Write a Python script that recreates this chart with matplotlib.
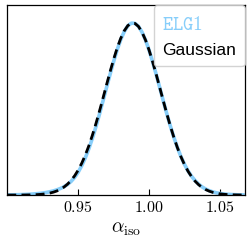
import matplotlib
matplotlib.use("Agg")
import matplotlib.pyplot as plt

# ---- data ----
alpha_iso = [0.9000, 0.9025, 0.9050, 0.9075, 0.9100, 0.9125, 0.9150, 0.9175,
             0.9200, 0.9225, 0.9250, 0.9275, 0.9300, 0.9325, 0.9350, 0.9375,
             0.9400, 0.9425, 0.9450, 0.9475, 0.9500, 0.9525, 0.9550, 0.9575,
             0.9600, 0.9625, 0.9650, 0.9675, 0.9700, 0.9725, 0.9750, 0.9775,
             0.9800, 0.9825, 0.9850, 0.9875, 0.9900, 0.9925, 0.9950, 0.9975,
             1.0000, 1.0025, 1.0050, 1.0075, 1.0100, 1.0125, 1.0150, 1.0175,
             1.0200, 1.0225, 1.0250, 1.0275, 1.0300, 1.0325, 1.0350, 1.0375,
             1.0400, 1.0425, 1.0450, 1.0475, 1.0500, 1.0525, 1.0550, 1.0575,
             1.0600, 1.0625, 1.0650, 1.0675]

elg1 = [0.0010, 0.0013, 0.0017, 0.0022, 0.0028, 0.0036, 0.0046, 0.0058,
        0.0074, 0.0094, 0.0120, 0.0152, 0.0192, 0.0242, 0.0306, 0.0385,
        0.0486, 0.0620, 0.0795, 0.1030, 0.1330, 0.1710, 0.2160, 0.2690,
        0.3300, 0.3970, 0.4700, 0.5470, 0.6250, 0.7020, 0.7760, 0.8440,
        0.9030, 0.9500, 0.9830, 0.9985, 0.9975, 0.9800, 0.9470, 0.9000,
        0.8415, 0.7740, 0.7010, 0.6245, 0.5475, 0.4720, 0.4010, 0.3350,
        0.2755, 0.2230, 0.1780, 0.1400, 0.1090, 0.0835, 0.0630, 0.0470,
        0.0348, 0.0254, 0.0184, 0.0132, 0.0094, 0.0066, 0.0047, 0.0033,
        0.0023, 0.0016, 0.0011, 0.0008]

gaussian = [0.0000, 0.0001, 0.0001, 0.0002, 0.0003, 0.0005, 0.0009, 0.0014,
            0.0022, 0.0034, 0.0053, 0.0079, 0.0117, 0.0169, 0.0241, 0.0339,
            0.0468, 0.0637, 0.0852, 0.1121, 0.1453, 0.1851, 0.2321, 0.2862,
            0.3475, 0.4148, 0.4873, 0.5633, 0.6405, 0.7167, 0.7888, 0.8543,
            0.9103, 0.9542, 0.9842, 0.9987, 0.9971, 0.9794, 0.9465, 0.9000,
            0.8419, 0.7748, 0.7017, 0.6251, 0.5480, 0.4725, 0.4010, 0.3347,
            0.2749, 0.2221, 0.1766, 0.1381, 0.1064, 0.0805, 0.0600, 0.0439,
            0.0317, 0.0225, 0.0157, 0.0108, 0.0073, 0.0048, 0.0032, 0.0020,
            0.0013, 0.0008, 0.0005, 0.0003]

xticks = [0.95, 1.00, 1.05]
xtick_labels = ["0.95", "1.00", "1.05"]
series_labels = ["ELG1", "Gaussian"]

# ---- style ----
plt.rcParams["mathtext.fontset"] = "cm"

fig = plt.figure(figsize=(2.53, 2.53), dpi=100)
ax = fig.add_axes([0.029, 0.225, 0.939, 0.751])

blue = "#87CEFA"
l1, = ax.plot(alpha_iso, elg1, color=blue, lw=2.6, solid_capstyle="butt")
l2, = ax.plot(alpha_iso, gaussian, color="black", lw=2.0,
              linestyle=(0, (3.2, 1.9)))

ax.set_xlim(0.900, 1.0676)
ax.set_ylim(0, max(max(elg1), max(gaussian)) * 1.105)
ax.set_yticks([])
ax.set_xticks(xticks, labels=[f"${t}$" for t in xtick_labels])
ax.tick_params(axis="x", direction="in", length=4, width=0.8,
               labelsize=11.5, pad=3)
for s in ax.spines.values():
    s.set_linewidth(0.9)

ax.set_xlabel(r"$\alpha_{\rm iso}$", fontsize=14, labelpad=3)

leg = ax.legend([l1, l2], [r"$\mathtt{" + series_labels[0] + "}$", series_labels[1]],
                loc="upper right", borderaxespad=0.0, handlelength=0,
                handletextpad=0, fontsize=12.5, fancybox=True,
                framealpha=0.85, edgecolor="0.8", borderpad=0.5,
                labelspacing=0.55)
for h in leg.legend_handles:
    h.set_visible(False)
t1, t2 = leg.get_texts()
t1.set_color(blue)
t1.set_fontsize(14)
t2.set_color("black")
t2.set_fontfamily("Liberation Sans")

fig.savefig("out.png", dpi=100)
